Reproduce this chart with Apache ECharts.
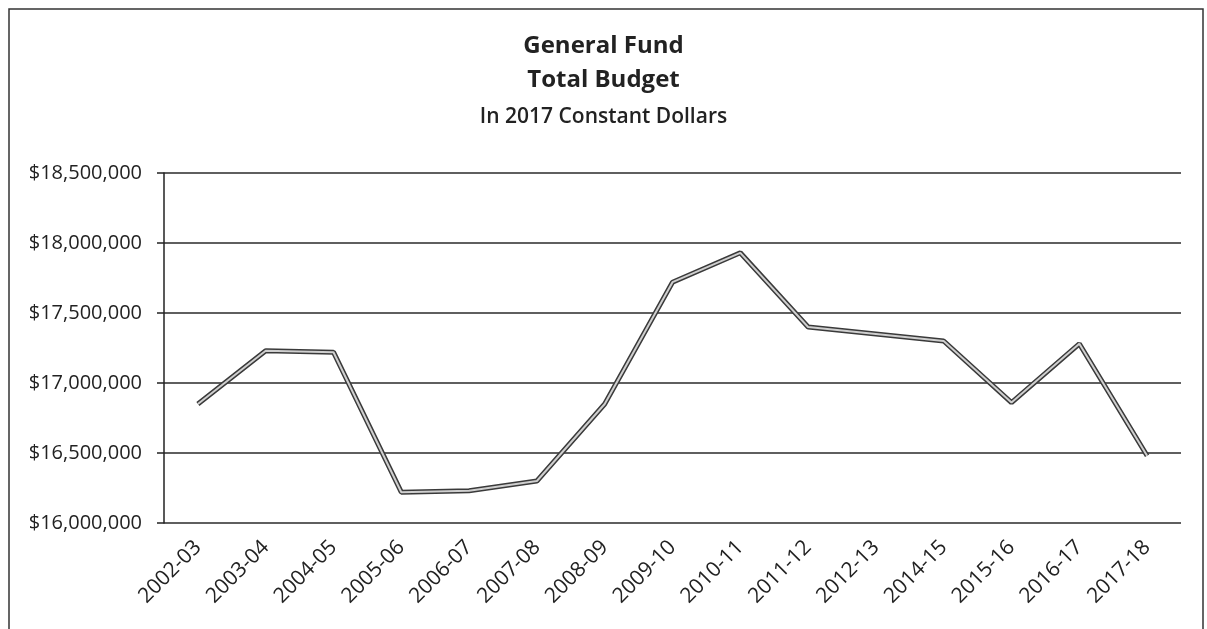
<!DOCTYPE html>
<html>
<head>
<meta charset="utf-8">
<script src="https://cdn.jsdelivr.net/npm/echarts@6/dist/echarts.min.js"></script>
<style>
    html, body { margin: 0; padding: 0; background: #fff; }
    #chart { width: 1207px; height: 629px; }
</style>
</head>
<body>
<div id="chart"></div>
<script>
// fiscal years (2013-14 is not in the source chart)
const years = ['2002-03', '2003-04', '2004-05', '2005-06', '2006-07', '2007-08', '2008-09',
    '2009-10', '2010-11', '2011-12', '2012-13', '2014-15', '2015-16', '2016-17', '2017-18'];

// total budget, 2017 constant dollars
const budget = [16850000, 17230000, 17220000, 16220000, 16230000, 16300000, 16850000,
    17720000, 17930000, 17400000, 17350000, 17300000, 16860000, 17280000, 16480000];

const yMin = 16000000;
const yMax = 18500000;
const yStep = 500000;

const titleMain = 'General Fund';
const titleSecond = 'Total Budget';
const subTitle = 'In 2017 Constant Dollars';

const font = '"Open Sans", sans-serif';
const ink = '#222';

const chart = echarts.init(document.getElementById('chart'));

const option = {
    backgroundColor: '#fff',
    animation: false,
    textStyle: { fontFamily: font },
    title: [
        {
            text: titleMain,
            left: 'center',
            top: 29,
            textStyle: { fontSize: 24, fontWeight: 'bold', color: ink, lineHeight: 24, fontFamily: font }
        },
        {
            text: titleSecond,
            left: 'center',
            top: 63,
            textStyle: { fontSize: 24, fontWeight: 'bold', color: ink, lineHeight: 24, fontFamily: font }
        },
        {
            text: subTitle,
            left: 'center',
            top: 102,
            textStyle: { fontSize: 21, fontWeight: 600, color: ink, lineHeight: 21, fontFamily: font }
        }
    ],
    graphic: [
        {
            // outer chart frame (bottom edge is cut off in the scan)
            type: 'rect',
            shape: { x: 9, y: 9, width: 1194, height: 660 },
            style: { fill: 'none', stroke: '#333', lineWidth: 1.5 },
            silent: true
        }
    ],
    grid: {
        left: 164,
        right: 26,
        top: 173,
        bottom: 106
    },
    xAxis: {
        type: 'category',
        data: years,
        boundaryGap: true,
        axisLine: { show: false },
        axisTick: { show: false },
        axisLabel: {
            rotate: 45,
            interval: 0,
            margin: 21,
            fontSize: 21,
            color: ink,
            fontFamily: font
        }
    },
    yAxis: {
        type: 'value',
        min: yMin,
        max: yMax,
        interval: yStep,
        axisLine: { show: true, lineStyle: { color: ink, width: 1.5 } },
        axisTick: { show: true, length: 7, lineStyle: { color: ink, width: 1.5 } },
        splitLine: { show: true, lineStyle: { color: '#2a2a2a', width: 1.5 } },
        axisLabel: {
            margin: 22,
            fontSize: 20,
            color: ink,
            fontFamily: font,
            formatter: v => '$' + v.toLocaleString('en-US')
        }
    },
    series: [
        {
            // dark outer stroke of the scanned double line
            name: 'Total Budget',
            type: 'line',
            data: budget,
            symbol: 'none',
            lineStyle: { color: '#3a3a3a', width: 5 },
            z: 3
        },
        {
            // lighter core
            name: 'Total Budget core',
            type: 'line',
            data: budget,
            symbol: 'none',
            lineStyle: { color: '#cfcfcf', width: 2 },
            z: 4
        }
    ]
};

chart.setOption(option);
</script>
</body>
</html>
